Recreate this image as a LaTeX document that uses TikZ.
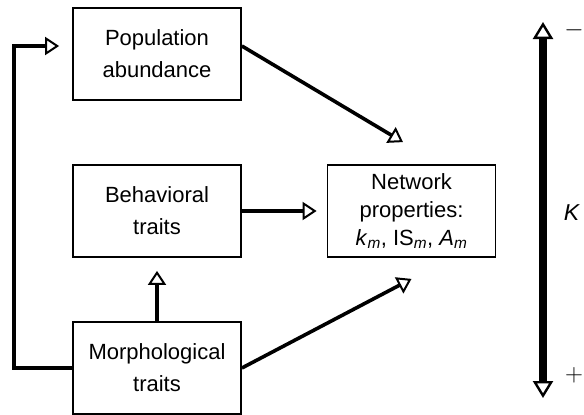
\documentclass[tikz,border=0pt]{standalone}
\usepackage{fontspec}
\setmainfont{Liberation Sans}
\usetikzlibrary{arrows.meta,calc}
\begin{document}
\begin{tikzpicture}[x=1pt,y=-1pt,
 box/.style={draw, line width=1.8pt, minimum width=168pt, minimum height=92pt, align=center, inner sep=0pt, font=\fontsize{22}{32}\selectfont},
 conn/.style={line width=3.6pt, -{Triangle[open, length=14pt, width=18pt, line width=2pt]}},
 kbar/.style={line width=8pt, {Triangle[open, length=17pt, width=20pt, line width=2.4pt]}-{Triangle[open, length=17pt, width=20pt, line width=2.4pt]}},
 lbl/.style={inner sep=0pt, font=\fontsize{25}{28}\selectfont}
]
\useasboundingbox (0,0) rectangle (584,415);
\node[box] (pop) at (157,54) {Population\\abundance};
\node[box] (beh) at (157,211) {Behavioral\\traits};
\node[box, font=\fontsize{22}{28}\selectfont] (net) at (411.5,211) {Network\\properties:\\\textit{k}\textsubscript{\textit{m}}, IS\textsubscript{\textit{m}}, \textit{A}\textsubscript{\textit{m}}};
\node[box] (mor) at (157,368) {Morphological\\traits};

\coordinate (popin) at ($(pop.west)+(0,-8)$);
\coordinate (popout) at ($(pop.east)+(0,-8)$);
\coordinate (netin1) at ($(net.north)+(-8.5,-22)$);
\coordinate (netin2) at ($(net.south)+(0,21)$);
\coordinate (fb) at (14,0);

\draw[conn] (popout) -- (netin1);
\draw[conn, shorten >=10pt] (beh.east) -- (net.west);
\draw[conn, shorten >=13pt] (mor.north) -- (beh.south);
\draw[conn] (mor.east) -- (netin2);
\draw[conn, shorten >=13pt] (mor.west) -- (fb |- mor.west) -- (fb |- popin) -- (popin);

\coordinate (ktop) at (543,22);
\coordinate (kbot) at (543,398);
\draw[kbar] (ktop) -- (kbot);
\node[lbl] (minus) at (574,30) {$-$};
\node[lbl] (plus) at (574,375) {$+$};
\node[lbl, font=\fontsize{23}{26}\selectfont] (K) at (572,213) {\textit{K}};
\end{tikzpicture}
\end{document}
